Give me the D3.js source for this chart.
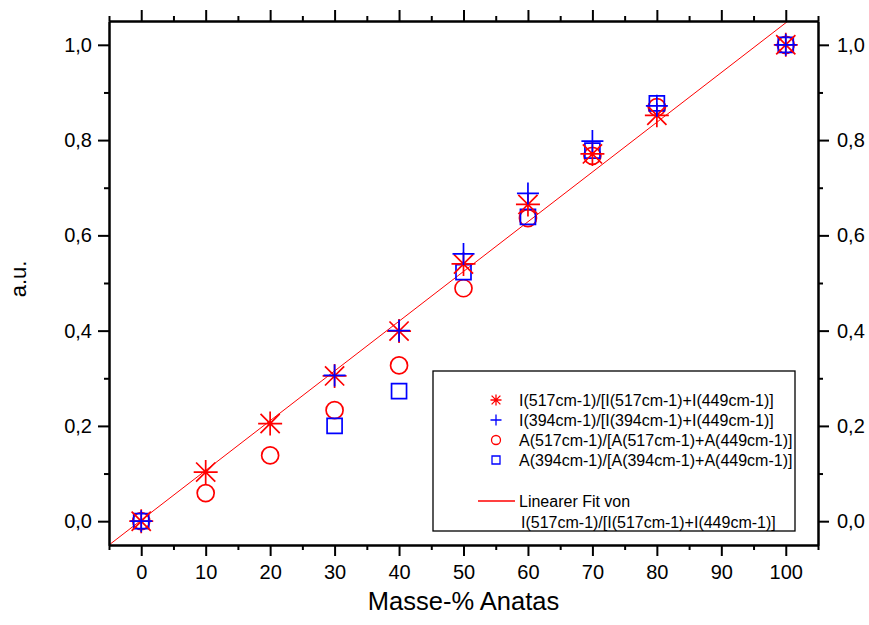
<!DOCTYPE html>
<html>
<head>
<meta charset="utf-8">
<script src="https://cdn.jsdelivr.net/npm/d3@7"></script>
<style>
  body { margin: 0; background: #fff; }
  text { font-family: "Liberation Sans", Arial, sans-serif; }
</style>
</head>
<body>
<div id="chart"></div>
<script>
// data
var massPct = [0, 10, 20, 30, 40, 50, 60, 70, 80, 100];
var i517 = [0, 0.103, 0.205, 0.305, 0.399, 0.540, 0.665, 0.771, 0.852, 1.0];
var i394 = [0, null, null, 0.306, 0.400, 0.561, 0.688, 0.798, 0.872, 1.0];
var a517 = [0, 0.059, 0.138, 0.233, 0.327, 0.489, 0.636, 0.767, 0.869, 1.0];
var a394 = [0, null, null, 0.200, 0.273, 0.523, 0.639, 0.778, 0.877, 1.0];
var fitIntercept = 0.0022, fitSlope = 0.01044;

var xMajor = [0, 10, 20, 30, 40, 50, 60, 70, 80, 90, 100];
var xMinor = [-5, 5, 15, 25, 35, 45, 55, 65, 75, 85, 95, 105];
var yMajor = [0, 0.2, 0.4, 0.6, 0.8, 1.0];
var yMinor = [0.1, 0.3, 0.5, 0.7, 0.9];

var legendLabels = [
  "I(517cm-1)/[I(517cm-1)+I(449cm-1)]",
  "I(394cm-1)/[I(394cm-1)+I(449cm-1)]",
  "A(517cm-1)/[A(517cm-1)+A(449cm-1)]",
  "A(394cm-1)/[A(394cm-1)+A(449cm-1)]"
];

var W = 869, H = 625;
var margin = { top: 21, right: 51, bottom: 80, left: 109 },
    width = W - margin.left - margin.right,
    height = H - margin.top - margin.bottom;

var RED = "#ff0000", BLUE = "#0000ff";

var svg = d3.select("#chart").append("svg")
    .attr("width", W).attr("height", H);

var g = svg.append("g")
    .attr("transform", "translate(" + margin.left + "," + margin.top + ")");

var x = d3.scaleLinear().domain([-5, 105]).range([0, width]);
var y = d3.scaleLinear().domain([-0.05, 1.05]).range([height, 0]);

var fmtY = function (d) { return d3.format(".1f")(d).replace(".", ","); };

g.append("clipPath").attr("id", "clip")
  .append("rect").attr("width", width).attr("height", height);

// fit line
g.append("line")
    .attr("clip-path", "url(#clip)")
    .attr("x1", x(-5)).attr("y1", y(fitIntercept + fitSlope * -5))
    .attr("x2", x(110)).attr("y2", y(fitIntercept + fitSlope * 110))
    .attr("stroke", RED).attr("stroke-width", 1);

// marker shapes
function asterisk(r) {
  var k = r * 0.8;
  return "M" + (-r) + ",0L" + r + ",0M0," + (-r) + "L0," + r +
    "M" + (-k) + "," + (-k) + "L" + k + "," + k +
    "M" + (-k) + "," + k + "L" + k + "," + (-k);
}
function plus(r) {
  return "M" + (-r) + ",0L" + r + ",0M0," + (-r) + "L0," + r;
}
function square(r) {
  return "M" + (-r) + "," + (-r) + "h" + (2 * r) + "v" + (2 * r) + "h" + (-2 * r) + "Z";
}
function circle(r) {
  return "M" + r + ",0A" + r + "," + r + " 0 1,1 " + (-r) + ",0A" + r + "," + r + " 0 1,1 " + r + ",0Z";
}

var series = [
  { values: a517, color: RED, shape: circle, size: 8.5, legSize: 4.5 },
  { values: a394, color: BLUE, shape: square, size: 7.5, legSize: 4 },
  { values: i517, color: RED, shape: asterisk, size: 12, legSize: 5.5 },
  { values: i394, color: BLUE, shape: plus, size: 11, legSize: 5.5 }
];

series.forEach(function (s) {
  var pts = massPct.map(function (m, i) { return { x: m, y: s.values[i] }; })
      .filter(function (d) { return d.y != null; });
  g.selectAll(null).data(pts).enter().append("path")
      .attr("transform", function (d) { return "translate(" + x(d.x) + "," + y(d.y) + ")"; })
      .attr("d", s.shape(s.size))
      .attr("fill", "none")
      .attr("stroke", s.color)
      .attr("stroke-width", 1.7);
});

// axes
function styleAxis(sel, fs) {
  sel.selectAll("path, line").attr("stroke", "#000").attr("stroke-width", 2);
  sel.selectAll("text").attr("font-size", fs).attr("fill", "#000")
     .style("font-family", "'Liberation Sans', Arial, sans-serif");
}

var axes = [
  { ax: d3.axisBottom(x), t: "translate(0," + height + ")", major: xMajor, minor: xMinor, labels: true, fmt: d3.format("d") },
  { ax: d3.axisTop(x), t: "translate(0,0)", major: xMajor, minor: xMinor, labels: false },
  { ax: d3.axisLeft(y), t: "translate(0,0)", major: yMajor, minor: yMinor, labels: true, fmt: fmtY },
  { ax: d3.axisRight(y), t: "translate(" + width + ",0)", major: yMajor, minor: yMinor, labels: true, fmt: fmtY }
];

axes.forEach(function (a, i) {
  var scale = a.ax.scale();
  var make = [d3.axisBottom, d3.axisTop, d3.axisLeft, d3.axisRight][i];
  var minor = g.append("g").attr("transform", a.t)
      .call(make(scale).tickValues(a.minor).tickSize(5).tickSizeOuter(0).tickFormat(""));
  styleAxis(minor, 20);
  var pad = i === 0 ? 9 : (i === 3 ? 8 : 6);
  var major = g.append("g").attr("transform", a.t)
      .call(a.ax.tickValues(a.major).tickSize(11).tickSizeOuter(0).tickPadding(pad)
        .tickFormat(a.labels ? a.fmt : ""));
  styleAxis(major, 20);
});

// axis titles
svg.append("text")
    .attr("x", margin.left + width / 2).attr("y", 610)
    .attr("text-anchor", "middle")
    .attr("font-size", 25.5)
    .text("Masse-% Anatas");

svg.append("text")
    .attr("transform", "translate(26,279) rotate(-90)")
    .attr("text-anchor", "middle")
    .attr("font-size", 22)
    .text("a.u.");

// legend
var leg = svg.append("g").attr("transform", "translate(433,371)");
leg.append("rect")
    .attr("width", 362).attr("height", 160)
    .attr("fill", "#fff").attr("stroke", "#000").attr("stroke-width", 1.3);

var legOrder = [series[2], series[3], series[0], series[1]];
legOrder.forEach(function (s, i) {
  var cy = 29 + i * 20;
  leg.append("path")
      .attr("transform", "translate(63," + cy + ")")
      .attr("d", s.shape(s.legSize))
      .attr("fill", "none").attr("stroke", s.color).attr("stroke-width", 1.3);
  leg.append("text")
      .attr("x", 86).attr("y", cy).attr("dy", "0.36em")
      .attr("font-size", 16)
      .text(legendLabels[i]);
});

leg.append("line")
    .attr("x1", 45).attr("x2", 82).attr("y1", 130).attr("y2", 130)
    .attr("stroke", RED).attr("stroke-width", 1.3);
leg.append("text")
    .attr("x", 86).attr("y", 130).attr("dy", "0.36em")
    .attr("font-size", 16)
    .text("Linearer Fit von");
leg.append("text")
    .attr("x", 88).attr("y", 151).attr("dy", "0.36em")
    .attr("font-size", 16)
    .text(legendLabels[0]);
</script>
</body>
</html>
